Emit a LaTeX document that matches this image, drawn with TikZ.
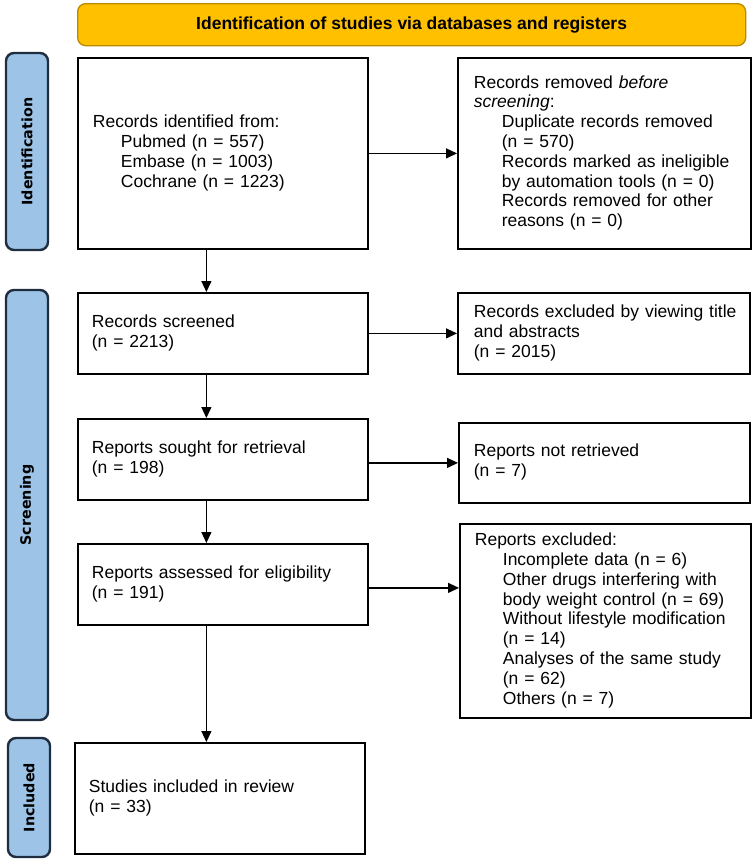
\documentclass[tikz,border=0pt]{standalone}
\usepackage{fontspec}
\setmainfont{Liberation Sans}
\newfontfamily\sidefont{DejaVu Sans}
\usetikzlibrary{arrows.meta,calc}
\definecolor{hdrfill}{HTML}{FFC000}
\definecolor{hdrdraw}{HTML}{B98A00}
\definecolor{sidefill}{HTML}{9DC3E6}
\definecolor{sidedraw}{HTML}{1F2D40}
\newcommand\mainsize{\fontsize{17.5}{19.8}\selectfont}
\newcommand\ind{\hspace*{28pt}}
\newcommand\lines[1]{\begin{tabular}{@{}l@{}}#1\end{tabular}}
\begin{document}
\begin{tikzpicture}[x=1pt,y=-1pt,
  box/.style={draw=black, line width=1.8pt, fill=white, inner xsep=15pt, inner ysep=0pt,
    align=left, font=\mainsize, anchor=north west},
  hdr/.style={draw=hdrdraw, line width=1.3pt, fill=hdrfill, rounded corners=8pt,
    font=\mainsize\bfseries, anchor=north west},
  side/.style={draw=sidedraw, line width=2.4pt, fill=sidefill, rounded corners=8pt,
    font=\sidefont\fontsize{14.3}{16}\selectfont\bfseries, rotate=90, inner sep=0pt},
  arr/.style={line width=1.3pt, -{Triangle[length=11pt,width=10pt]}}]
\useasboundingbox (0,0) rectangle (753,863);

\node[hdr, minimum width=668pt, minimum height=42pt] (hdr) at (77,3)
  {Identification of studies via databases and registers};

\node[side, minimum width=197pt, minimum height=42pt] (sid) at (27,151.5) {Identification};
\node[side, minimum width=430pt, minimum height=42pt] (sscr) at (27,505) {Screening};
\node[side, minimum width=119pt, minimum height=42pt] (sinc) at (29,797.5) {Included};

\node[box, minimum width=290pt, minimum height=191pt, text width=260pt, inner xsep=14pt] (rec) at (77,57)
  {\lines{Records identified from:\\ \ind Pubmed (n = 557)\\ \ind Embase (n = 1003)\\ \ind Cochrane (n = 1223)}};
\node[box, minimum width=293pt, minimum height=191pt, text width=261pt, inner xsep=16pt] (rem) at (457,57)
  {\lines{Records removed \textit{before}\\ \textit{screening}:\\ \ind Duplicate records removed\\ \ind (n = 570)\\ \ind Records marked as ineligible\\ \ind by automation tools (n = 0)\\ \ind Records removed for other\\ \ind reasons (n = 0)}};

\node[box, minimum width=290pt, minimum height=81pt, text width=262pt, inner xsep=14pt] (scr) at (77,292)
  {\lines{Records screened\\ (n = 2213)}};
\node[box, minimum width=292pt, minimum height=81pt, text width=260pt, inner xsep=16pt] (exc1) at (457,292)
  {\lines{Records excluded by viewing title\\ and abstracts\\ (n = 2015)}};

\node[box, minimum width=290pt, minimum height=81pt, text width=262pt, inner xsep=14pt] (sought) at (77,418)
  {\lines{Reports sought for retrieval\\ (n = 198)}};
\node[box, minimum width=291pt, minimum height=80pt, text width=261pt, inner xsep=15pt] (notret) at (458,422)
  {\lines{Reports not retrieved\\ (n = 7)}};

\node[box, minimum width=290pt, minimum height=81pt, text width=262pt, inner xsep=14pt] (assess) at (77,543)
  {\lines{Reports assessed for eligibility\\ (n = 191)}};
\node[box, minimum width=291pt, minimum height=194pt, text width=261pt, inner xsep=15pt] (exc2) at (459,523)
  {\lines{Reports excluded:\\ \ind Incomplete data (n = 6)\\ \ind Other drugs interfering with\\ \ind body weight control (n = 69)\\ \ind Without lifestyle modification\\ \ind (n = 14)\\ \ind Analyses of the same study\\ \ind (n = 62)\\ \ind Others (n = 7)}};

\node[box, minimum width=290pt, minimum height=111pt, text width=262pt, inner xsep=14pt] (incl) at (74,742)
  {\lines{Studies included in review\\ (n = 33)}};

\draw[arr] (rec.east) -- (rem.west);
\draw[arr] (scr.east) -- (exc1.west);
\draw[arr] (notret.west -| sought.east) -- (notret.west);
\draw[arr] ([yshift=-3.5pt]assess.east) -- ([yshift=-3.5pt]assess.east -| exc2.west);

\draw[arr] ([xshift=-16.5pt]rec.south) -- ([xshift=-16.5pt]rec.south |- scr.north);
\draw[arr] ([xshift=-16.5pt]scr.south) -- ([xshift=-16.5pt]scr.south |- sought.north);
\draw[arr] ([xshift=-16.5pt]sought.south) -- ([xshift=-16.5pt]sought.south |- assess.north);
\draw[arr] ([xshift=-16.5pt]assess.south) -- ([xshift=-16.5pt]assess.south |- incl.north);
\end{tikzpicture}
\end{document}
